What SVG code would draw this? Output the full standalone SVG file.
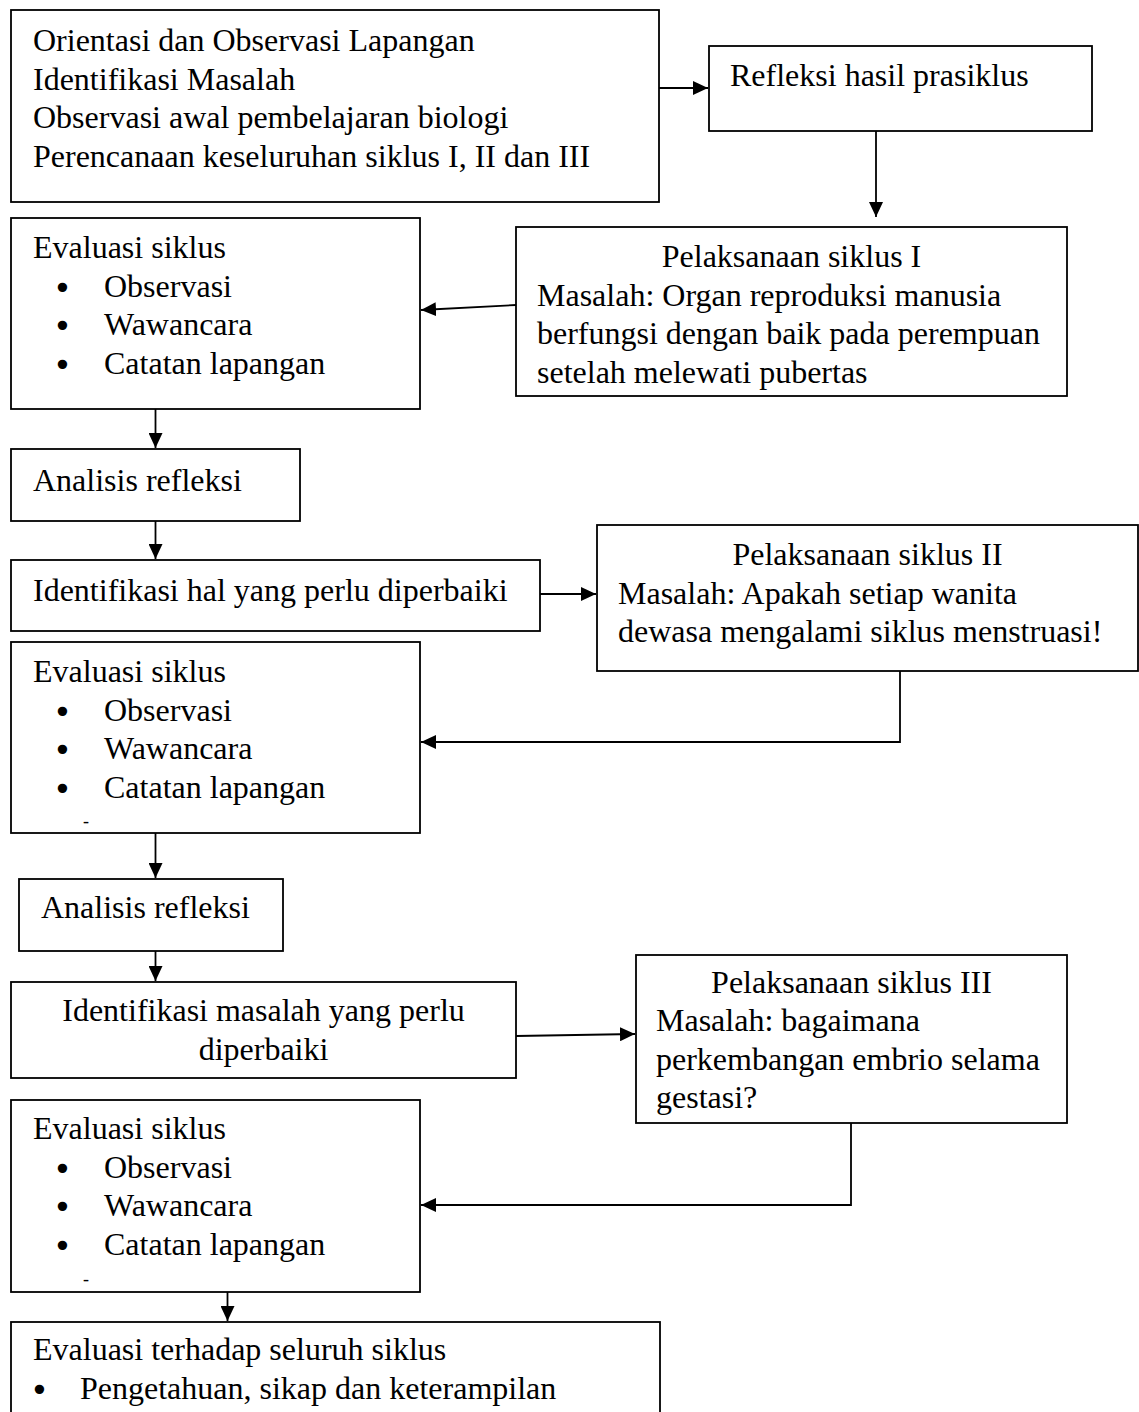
<svg xmlns="http://www.w3.org/2000/svg" width="1139" height="1412" viewBox="0 0 1139 1412">
<style>
.box{fill:#fff;stroke:#000;stroke-width:1.8}
.t{font-family:"Liberation Serif","Times New Roman",serif;font-size:32px;fill:#000}
.c{text-anchor:middle}
.b{font-family:"DejaVu Sans",sans-serif;font-size:32px;fill:#000}
.d{font-family:"Liberation Serif","Times New Roman",serif;font-size:18px;fill:#000}
.cn{fill:none;stroke:#000;stroke-width:1.8}
</style>
<defs>
<marker id="ah" viewBox="0 0 15 14" refX="15" refY="7" markerWidth="15" markerHeight="14" orient="auto" markerUnits="userSpaceOnUse"><path d="M0,0 L15,7 L0,14 z" fill="#000"/></marker>
</defs>
<rect width="1139" height="1412" fill="#fff"/>
<g id="n1"><rect class="box" x="11" y="10" width="648" height="192"/>
<text class="t" x="33" y="51">Orientasi dan Observasi Lapangan</text>
<text class="t" x="33" y="89.5">Identifikasi Masalah</text>
<text class="t" x="33" y="128">Observasi awal pembelajaran biologi</text>
<text class="t" x="33" y="166.5">Perencanaan keseluruhan siklus I, II dan III</text></g>
<g id="n2"><rect class="box" x="709" y="46" width="383" height="85"/>
<text class="t" x="730" y="86">Refleksi hasil prasiklus</text></g>
<g id="n3"><rect class="box" x="516" y="227" width="551" height="169"/>
<text class="t c" x="791.5" y="267">Pelaksanaan siklus I</text>
<text class="t" x="537" y="305.5">Masalah: Organ reproduksi manusia</text>
<text class="t" x="537" y="344">berfungsi dengan baik pada perempuan</text>
<text class="t" x="537" y="382.5">setelah melewati pubertas</text></g>
<g id="n4"><rect class="box" x="11" y="218" width="409" height="191"/>
<text class="t" x="33" y="258">Evaluasi siklus</text>
<text class="b" x="53" y="298.5">•</text><text class="t" x="104" y="296.5">Observasi</text>
<text class="b" x="53" y="337">•</text><text class="t" x="104" y="335">Wawancara</text>
<text class="b" x="53" y="375.5">•</text><text class="t" x="104" y="373.5">Catatan lapangan</text></g>
<g id="n5"><rect class="box" x="11" y="449" width="289" height="72"/>
<text class="t" x="33" y="491">Analisis refleksi</text></g>
<g id="n6"><rect class="box" x="11" y="560" width="529" height="71"/>
<text class="t" x="33" y="601">Identifikasi hal yang perlu diperbaiki</text></g>
<g id="n7"><rect class="box" x="597" y="525" width="541" height="146"/>
<text class="t c" x="867.5" y="565">Pelaksanaan siklus II</text>
<text class="t" x="618" y="603.5">Masalah: Apakah setiap wanita</text>
<text class="t" x="618" y="642">dewasa mengalami siklus menstruasi!</text></g>
<g id="n8"><rect class="box" x="11" y="642" width="409" height="191"/>
<text class="t" x="33" y="682">Evaluasi siklus</text>
<text class="b" x="53" y="722.5">•</text><text class="t" x="104" y="720.5">Observasi</text>
<text class="b" x="53" y="761">•</text><text class="t" x="104" y="759">Wawancara</text>
<text class="b" x="53" y="799.5">•</text><text class="t" x="104" y="797.5">Catatan lapangan</text>
<text class="d" x="83" y="827">-</text></g>
<g id="n9"><rect class="box" x="19" y="879" width="264" height="72"/>
<text class="t" x="41" y="918">Analisis refleksi</text></g>
<g id="n10"><rect class="box" x="11" y="982" width="505" height="96"/>
<text class="t c" x="263.5" y="1021">Identifikasi masalah yang perlu</text>
<text class="t c" x="263.5" y="1059.5">diperbaiki</text></g>
<g id="n11"><rect class="box" x="636" y="955" width="431" height="168"/>
<text class="t c" x="851.5" y="993">Pelaksanaan siklus III</text>
<text class="t" x="656" y="1031">Masalah: bagaimana</text>
<text class="t" x="656" y="1069.5">perkembangan embrio selama</text>
<text class="t" x="656" y="1108">gestasi?</text></g>
<g id="n12"><rect class="box" x="11" y="1100" width="409" height="192"/>
<text class="t" x="33" y="1139">Evaluasi siklus</text>
<text class="b" x="53" y="1179.5">•</text><text class="t" x="104" y="1177.5">Observasi</text>
<text class="b" x="53" y="1218">•</text><text class="t" x="104" y="1216">Wawancara</text>
<text class="b" x="53" y="1256.5">•</text><text class="t" x="104" y="1254.5">Catatan lapangan</text>
<text class="d" x="83" y="1285">-</text></g>
<g id="n13"><rect class="box" x="11" y="1322" width="649" height="110"/>
<text class="t" x="33" y="1360">Evaluasi terhadap seluruh siklus</text>
<text class="b" x="30" y="1401">•</text><text class="t" x="80" y="1399">Pengetahuan, sikap dan keterampilan</text></g>
<g id="connectors">
<line class="cn" x1="659" y1="88" x2="708" y2="88" marker-end="url(#ah)"/>
<line class="cn" x1="876" y1="131" x2="876" y2="217" marker-end="url(#ah)"/>
<line class="cn" x1="516" y1="305" x2="421" y2="310" marker-end="url(#ah)"/>
<line class="cn" x1="155.5" y1="409" x2="155.5" y2="448" marker-end="url(#ah)"/>
<line class="cn" x1="155.5" y1="521" x2="155.5" y2="559" marker-end="url(#ah)"/>
<line class="cn" x1="540" y1="594" x2="596" y2="594" marker-end="url(#ah)"/>
<polyline class="cn" points="900,671 900,742 421,742" marker-end="url(#ah)"/>
<line class="cn" x1="155.5" y1="833" x2="155.5" y2="878" marker-end="url(#ah)"/>
<line class="cn" x1="155.5" y1="951" x2="155.5" y2="981" marker-end="url(#ah)"/>
<line class="cn" x1="516" y1="1036" x2="635" y2="1034" marker-end="url(#ah)"/>
<polyline class="cn" points="851,1123 851,1205 421,1205" marker-end="url(#ah)"/>
<line class="cn" x1="227.5" y1="1292" x2="227.5" y2="1321" marker-end="url(#ah)"/>
</g>
</svg>
